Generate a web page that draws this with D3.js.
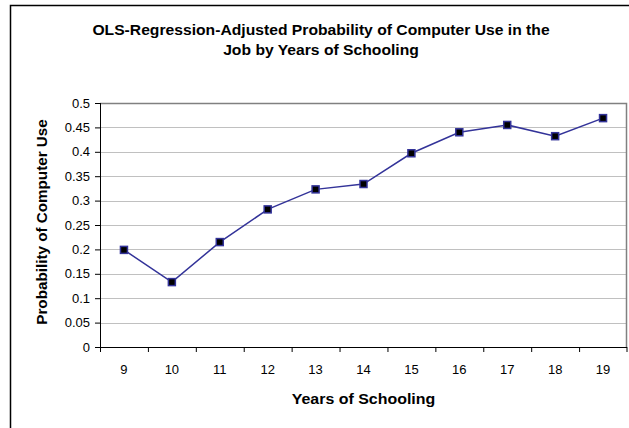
<!DOCTYPE html>
<html>
<head>
<meta charset="utf-8">
<script src="https://cdn.jsdelivr.net/npm/d3@7"></script>
<style>
  body { margin: 0; background: #fff; }
  text { font-family: "Liberation Sans", Arial, sans-serif; fill: #000; }
  .axis path { stroke: #000; }
  .axis line { stroke: #000; }
</style>
</head>
<body>
<div id="chart"></div>
<script>
var years = [9, 10, 11, 12, 13, 14, 15, 16, 17, 18, 19];
var probability = [0.199, 0.133, 0.215, 0.282, 0.323, 0.334, 0.397, 0.440, 0.455, 0.432, 0.469];
var yTicks = [0, 0.05, 0.1, 0.15, 0.2, 0.25, 0.3, 0.35, 0.4, 0.45, 0.5];
var titleLines = ["OLS-Regression-Adjusted Probability of Computer Use in the", "Job by Years of Schooling"];

var data = years.map(function(d, i) { return {year: d, p: probability[i]}; });

var W = 629, H = 428;
var margin = {top: 103, right: 2, bottom: 81, left: 100},
  width = W - margin.left - margin.right,
  height = H - margin.top - margin.bottom;

var svg = d3.select("#chart").append("svg")
  .attr("width", W)
  .attr("height", H);

// outer chart frame (cut off at right and bottom)
svg.append("path")
  .attr("d", "M10.5," + H + "V5.5H" + W)
  .attr("fill", "none")
  .attr("stroke", "#000")
  .attr("stroke-width", 1.5);

// title, slightly stretched like the original
svg.append("g")
  .selectAll("text")
  .data(titleLines)
  .enter().append("text")
  .attr("transform", function(d, i) { return "translate(321," + (35 + i * 20) + ") scale(1.12,1)"; })
  .attr("text-anchor", "middle")
  .style("font-weight", "bold")
  .style("font-size", "14px")
  .text(function(d) { return d; });

var g = svg.append("g")
  .attr("transform", "translate(" + margin.left + "," + margin.top + ")");

var x = d3.scaleBand()
  .domain(years)
  .range([0, width])
  .padding(0);

var y = d3.scaleLinear()
  .domain([0, 0.5])
  .range([height, 0]);

// gridlines
g.append("g")
  .selectAll("line")
  .data(yTicks.filter(function(d) { return d > 0 && d < 0.5; }))
  .enter().append("line")
  .attr("x1", 0)
  .attr("x2", width)
  .attr("y1", function(d) { return Math.round(y(d)) + 0.5; })
  .attr("y2", function(d) { return Math.round(y(d)) + 0.5; })
  .attr("stroke", "#c0c0c0")
  .attr("stroke-width", 1);

// top and right plot border
g.append("path")
  .attr("d", "M0," + (Math.round(y(0.5)) + 0.5) + "H" + (width - 0.5) + "V" + height)
  .attr("fill", "none")
  .attr("stroke", "#808080")
  .attr("stroke-width", 1.5);

var yAxis = d3.axisLeft(y)
  .tickValues(yTicks)
  .tickSize(5)
  .tickPadding(5)
  .tickFormat(function(d) { return d3.format("")(+d.toFixed(2)); });

g.append("g")
  .attr("class", "y axis")
  .call(yAxis)
  .call(function(a) { a.select(".domain").attr("d", "M0.5,0V" + height); })
  .selectAll("text")
  .style("font-size", "13px");

var xAxis = d3.axisBottom(x)
  .tickSize(0)
  .tickPadding(18);

g.append("g")
  .attr("class", "x axis")
  .attr("transform", "translate(0," + height + ")")
  .call(xAxis)
  .call(function(a) { a.select(".domain").attr("d", "M0,0.5H" + width); })
  .selectAll("text")
  .style("font-size", "13px");

// x tick marks between categories
g.append("g")
  .selectAll("line")
  .data(years.concat(["end"]))
  .enter().append("line")
  .attr("x1", function(d) { return d === "end" ? width : x(d) + 0.5; })
  .attr("x2", function(d) { return d === "end" ? width : x(d) + 0.5; })
  .attr("y1", height)
  .attr("y2", height + 5)
  .attr("stroke", "#000");

// axis titles
svg.append("text")
  .attr("transform", "translate(" + (margin.left + width / 2) + ",404) scale(1.1,1)")
  .attr("text-anchor", "middle")
  .style("font-weight", "bold")
  .style("font-size", "14.5px")
  .text("Years of Schooling");

svg.append("text")
  .attr("transform", "translate(47,222) rotate(-90) scale(1.05,1)")
  .attr("text-anchor", "middle")
  .style("font-weight", "bold")
  .style("font-size", "14.5px")
  .text("Probability of Computer Use");

var valueline = d3.line()
  .x(function(d) { return x(d.year) + x.bandwidth() / 2; })
  .y(function(d) { return y(d.p); });

g.append("path")
  .datum(data)
  .attr("fill", "none")
  .attr("stroke", "#333399")
  .attr("stroke-width", 1.5)
  .attr("d", valueline);

g.selectAll(".dot")
  .data(data)
  .enter().append("rect")
  .attr("class", "dot")
  .attr("x", function(d) { return x(d.year) + x.bandwidth() / 2 - 3.5; })
  .attr("y", function(d) { return y(d.p) - 3.5; })
  .attr("width", 7)
  .attr("height", 7)
  .attr("fill", "#000")
  .attr("stroke", "#333399")
  .attr("stroke-width", 1.5);
</script>
</body>
</html>
